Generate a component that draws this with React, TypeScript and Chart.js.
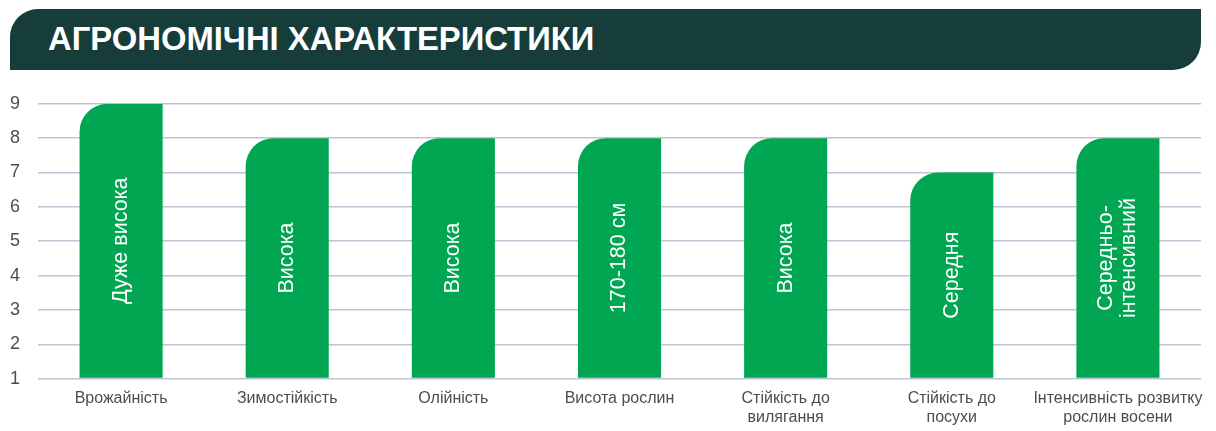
import React, { useEffect, useRef } from 'react';
import { Chart, registerables, Plugin } from 'chart.js';

Chart.register(...registerables);

const title = 'АГРОНОМІЧНІ ХАРАКТЕРИСТИКИ';

const categories: string[][] = [
  ['Врожайність'],
  ['Зимостійкість'],
  ['Олійність'],
  ['Висота рослин'],
  ['Стійкість до', 'вилягання'],
  ['Стійкість до', 'посухи'],
  ['Інтенсивність розвитку', 'рослин восени'],
];

const scores = [9, 8, 8, 8, 8, 7, 8];

const barTexts: string[][] = [
  ['Дуже висока'],
  ['Висока'],
  ['Висока'],
  ['170-180 см'],
  ['Висока'],
  ['Середня'],
  ['Середньо-', 'інтенсивний'],
];

const yMin = 1;
const yMax = 9;

const FONT = '"Liberation Sans", Arial, sans-serif';

// writes the rotated text in the middle of each bar
const barTextPlugin: Plugin<'bar'> = {
  id: 'barText',
  afterDatasetsDraw(chart) {
    const ctx = chart.ctx;
    const meta = chart.getDatasetMeta(0);
    ctx.save();
    ctx.fillStyle = '#ffffff';
    ctx.font = `21.5px ${FONT}`;
    ctx.textAlign = 'center';
    ctx.textBaseline = 'middle';
    meta.data.forEach((el: any, i) => {
      const lines = barTexts[i] || [];
      const cy = (el.y + el.base) / 2;
      const lh = 23;
      ctx.save();
      ctx.translate(el.x, cy);
      ctx.rotate(-Math.PI / 2);
      lines.forEach((line, j) => {
        const off = (j - (lines.length - 1) / 2) * lh;
        ctx.fillText(line, 0, off);
      });
      ctx.restore();
    });
    ctx.restore();
  },
};

const App: React.FC = () => {
  const canvasRef = useRef<HTMLCanvasElement>(null);

  useEffect(() => {
    document.body.style.margin = '0';
    if (!canvasRef.current) return;
    const chart = new Chart(canvasRef.current, {
      type: 'bar',
      data: {
        labels: categories,
        datasets: [
          {
            data: scores,
            base: yMin,
            backgroundColor: '#00a651',
            borderWidth: 0,
            borderRadius: { topLeft: 28, topRight: 0, bottomLeft: 0, bottomRight: 0 },
            borderSkipped: false,
            barPercentage: 0.5,
            categoryPercentage: 1,
          },
        ],
      },
      options: {
        animation: false,
        responsive: false,
        maintainAspectRatio: false,
        layout: { padding: { top: 15, right: 15, bottom: 0, left: 0 } },
        plugins: {
          legend: { display: false },
          tooltip: { enabled: false },
        },
        scales: {
          x: {
            grid: { display: false, drawTicks: false },
            border: { display: false },
            ticks: {
              color: '#4d4d4f',
              font: { family: FONT, size: 16, lineHeight: 1.2 },
              padding: 10,
              maxRotation: 0,
              autoSkip: false,
            },
          },
          y: {
            min: yMin,
            max: yMax,
            afterFit: (scale) => {
              scale.width = 38;
            },
            grid: { color: '#bcc5d3', lineWidth: 1.5, drawTicks: false },
            border: { display: false },
            ticks: {
              stepSize: 1,
              color: '#4d4d4f',
              font: { family: FONT, size: 18 },
              padding: 18,
            },
          },
        },
      },
      plugins: [barTextPlugin],
    });
    return () => chart.destroy();
  }, []);

  return (
    <div style={{ position: 'relative', width: 1216, height: 431, overflow: 'hidden', background: '#ffffff' }}>
      <div
        style={{
          position: 'absolute',
          left: 10,
          top: 9,
          width: 1191,
          height: 61,
          background: '#173d3b',
          borderTopLeftRadius: 28,
          borderBottomRightRadius: 28,
          display: 'flex',
          alignItems: 'center',
          paddingLeft: 38,
          boxSizing: 'border-box',
        }}
      >
        <span
          style={{
            color: '#ffffff',
            fontFamily: FONT,
            fontWeight: 700,
            fontSize: 32.8,
            lineHeight: 1,
            marginTop: 0,
          }}
        >
          {title}
        </span>
      </div>
      <canvas
        ref={canvasRef}
        width={1216}
        height={362}
        style={{ position: 'absolute', left: 0, top: 75, width: 1216, height: 362 }}
      />
    </div>
  );
};

export default App;
